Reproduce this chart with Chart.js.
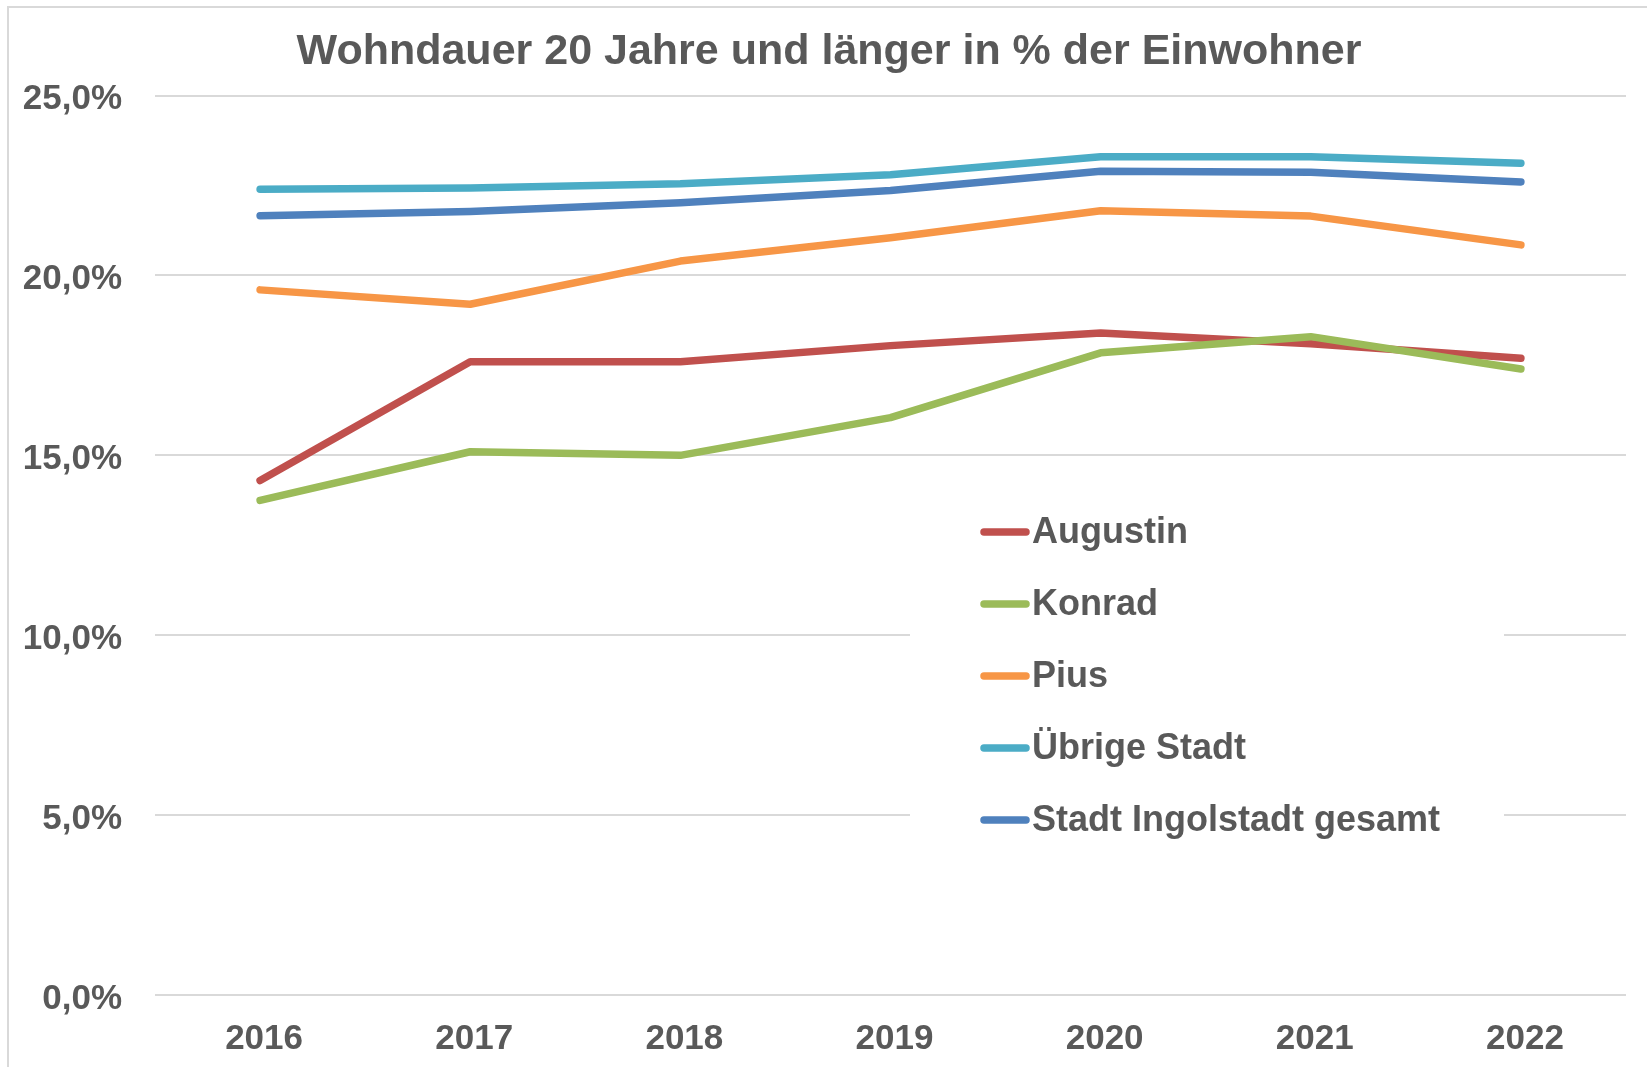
<!DOCTYPE html>
<html>
<head>
<meta charset="utf-8">
<script src="https://cdn.jsdelivr.net/npm/chart.js@4/dist/chart.umd.min.js"></script>
<style>
  html, body { margin: 0; padding: 0; background: #fff; }
  #wrap { position: relative; width: 1647px; height: 1067px; overflow: hidden; }
  #frame { position: absolute; left: 7px; top: 6px; width: 1700px; height: 1100px;
           border-left: 2px solid #d9d9d9; border-top: 2px solid #d9d9d9; box-sizing: border-box; }
  canvas { position: absolute; left: 0; top: 0; }
</style>
</head>
<body>
<div id="wrap">
  <div id="frame"></div>
  <canvas id="chart" width="1647" height="1067"></canvas>
</div>
<script>
const years = ["2016", "2017", "2018", "2019", "2020", "2021", "2022"];

const augustin = [14.3, 17.6, 17.6, 18.05, 18.4, 18.1, 17.7];
const konrad = [13.75, 15.1, 15.0, 16.05, 17.85, 18.3, 17.4];
const pius = [19.6, 19.2, 20.4, 21.05, 21.8, 21.65, 20.85];
const uebrigeStadt = [22.4, 22.43, 22.55, 22.8, 23.3, 23.3, 23.12];
const stadtGesamt = [21.66, 21.78, 22.02, 22.36, 22.9, 22.87, 22.6];

const seriesNames = ["Augustin", "Konrad", "Pius", "Übrige Stadt", "Stadt Ingolstadt gesamt"];
const seriesColors = ["#C0504D", "#9BBB59", "#F79646", "#4BACC6", "#4F81BD"];
const seriesValues = [augustin, konrad, pius, uebrigeStadt, stadtGesamt];

const Y_MIN = 0;
const Y_MAX = 25;
const Y_STEP = 5;

const TEXT_COLOR = "#595959";
const GRID_COLOR = "#d9d9d9";
const FONT = "'Liberation Sans', Arial, sans-serif";

// legend sits inside the plot, on a white box that hides the grid lines
const insideLegend = {
    id: "insideLegend",
    afterLayout(chart) {
        // nudge the title a bit to the right, like the original
        chart.titleBlock.left += 16;
        chart.titleBlock.right += 16;
    },
    beforeDatasetsDraw(chart) {
        const ctx = chart.ctx;
        ctx.save();
        ctx.fillStyle = "#fff";
        ctx.fillRect(910, 485, 594, 375);
        ctx.restore();
    },
    afterDraw(chart) {
        const ctx = chart.ctx;
        ctx.save();
        chart.data.datasets.forEach((ds, i) => {
            const y = 532 + i * 72;
            ctx.strokeStyle = ds.borderColor;
            ctx.lineWidth = 7.5;
            ctx.lineCap = "round";
            ctx.beginPath();
            ctx.moveTo(984, y);
            ctx.lineTo(1026, y);
            ctx.stroke();
            ctx.fillStyle = TEXT_COLOR;
            ctx.font = "bold 36px " + FONT;
            ctx.textBaseline = "middle";
            ctx.fillText(ds.label, 1032, y + 1);
        });
        ctx.restore();
    }
};

new Chart(document.getElementById("chart").getContext("2d"), {
    type: "line",
    data: {
        labels: years,
        datasets: seriesValues.map((values, i) => ({
            label: seriesNames[i],
            data: values,
            borderColor: seriesColors[i],
            backgroundColor: seriesColors[i],
            borderWidth: 7.5,
            borderCapStyle: "round",
            borderJoinStyle: "round",
            pointRadius: 0,
            tension: 0,
            order: seriesValues.length - i
        }))
    },
    options: {
        responsive: false,
        animation: false,
        layout: { padding: { left: 0, right: 21, top: 0, bottom: 0 } },
        plugins: {
            legend: { display: false },
            tooltip: { enabled: false },
            title: {
                display: true,
                text: "Wohndauer 20 Jahre und länger in % der Einwohner",
                color: TEXT_COLOR,
                font: { family: FONT, size: 43, weight: "bold" },
                padding: { top: 26, bottom: 18 }
            }
        },
        scales: {
            x: {
                offset: true,
                grid: { display: false, drawTicks: false },
                border: { display: false },
                ticks: {
                    color: TEXT_COLOR,
                    font: { family: FONT, size: 35, weight: "bold" },
                    padding: 23,
                    labelOffset: 4,
                    maxRotation: 0
                },
                afterFit(scale) { scale.height = 72; }
            },
            y: {
                min: Y_MIN,
                max: Y_MAX,
                ticks: {
                    stepSize: Y_STEP,
                    color: TEXT_COLOR,
                    font: { family: FONT, size: 35, weight: "bold" },
                    padding: 33,
                    labelOffset: 4,
                    callback: (v) => v.toFixed(1).replace(".", ",") + "%"
                },
                grid: { color: GRID_COLOR, lineWidth: 2, drawTicks: false },
                border: { display: false },
                afterFit(scale) { scale.width = 155; }
            }
        }
    },
    plugins: [insideLegend]
});
</script>
</body>
</html>
